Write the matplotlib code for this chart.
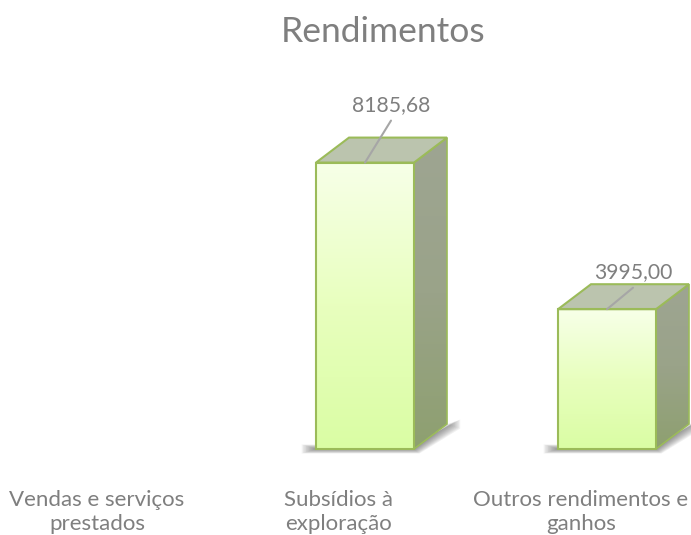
"""Rendimentos: 3D-look column chart drawn on a plain value axis."""
import matplotlib

matplotlib.use("Agg")  # headless
import matplotlib.pyplot as plt
import numpy as np
from matplotlib.colors import LinearSegmentedColormap
from matplotlib.patches import Polygon

categories = ["Vendas e serviços\nprestados", "Subsídios à\nexploração", "Outros rendimentos e\nganhos"]
values = [0, 8185.68, 3995.00]
value_labels = ["", "8185,68", "3995,00"]

plt.rcParams["font.family"] = ["Lato", "DejaVu Sans"]

W, H = 691, 535
GREY = "#7f7f7f"
EDGE = "#9bbb59"
LEADER = "#a6a6a6"
UNITS_PER_PX = 28.58  # value units per pixel
X_PX_PER_CAT = 242
X0_PX, Y0_PX = 123, 449  # where category 0 / value 0 land on the canvas
BAR_W = 98 / X_PX_PER_CAT
DX, DY = 33 / X_PX_PER_CAT, 25 * UNITS_PER_PX  # depth of the box

front_cmap = LinearSegmentedColormap.from_list("front", ["#dafda4", "#e8ffbe", "#f7ffe8"])
side_cmap = LinearSegmentedColormap.from_list("side", ["#8ea070", "#9aa389", "#9ea592"])

fig = plt.figure(figsize=(W / 100, H / 100), dpi=100)
ax = fig.add_axes([0, 0, 1, 1])
ax.axis("off")


def draw_shadow(x, ax):
    # soft floor shadow, stacked translucent polygons
    left, right = x - BAR_W / 2, x + BAR_W / 2
    for i in range(10):
        g = (10 - i) * 0.55 / X_PX_PER_CAT
        gy = (10 - i) * 0.45 * UNITS_PER_PX
        ax.add_patch(Polygon(
            [(left - 2.6 * g, -gy), (right + g, -gy), (right + DX + 2.4 * g, DY - gy),
             (right + DX + 2.4 * g, DY + gy), (right, gy), (left - 2.6 * g, gy)],
            closed=True, fc="#404040", ec="none", alpha=0.07, zorder=1))


def draw_box(x, val, ax):
    left, right = x - BAR_W / 2, x + BAR_W / 2
    # front face gradient, bottom to top
    grad = np.linspace(0, 1, 128).reshape(-1, 1)
    ax.imshow(grad, cmap=front_cmap, origin="lower", aspect="auto",
              extent=(left, right, 0, val), zorder=3)
    ax.add_patch(Polygon([(left, 0), (right, 0), (right, val), (left, val)],
                         closed=True, fc="none", ec=EDGE, lw=1.5, zorder=5, joinstyle="miter"))
    # side face
    side_pts = [(right, 0), (right + DX, DY), (right + DX, val + DY), (right, val)]
    side = Polygon(side_pts, closed=True, fc="none", ec="none", zorder=3)
    ax.add_patch(side)
    im = ax.imshow(grad, cmap=side_cmap, origin="lower", aspect="auto",
                   extent=(right, right + DX, 0, val + DY), zorder=3)
    im.set_clip_path(side)
    ax.add_patch(Polygon(side_pts, closed=True, fc="none", ec=EDGE, lw=1.2, zorder=4))
    # top face
    ax.add_patch(Polygon([(left, val), (right, val), (right + DX, val + DY), (left + DX, val + DY)],
                         closed=True, fc="#bbc4ae", ec=EDGE, lw=1.5, zorder=4))


for i, (val, label) in enumerate(zip(values, value_labels)):
    if val > 0:
        draw_shadow(i, ax)
        draw_box(i, val, ax)
        ax.annotate("", xy=(i, val), xytext=(26, 42 if val > 5000 else 21.5), textcoords="offset pixels",
                    arrowprops=dict(arrowstyle="-", color=LEADER, lw=1.5, shrinkA=0, shrinkB=0), zorder=6)
        ax.annotate(label, xy=(i, val), xytext=(26, 57 if val > 5000 else 37), textcoords="offset pixels",
                    ha="center", va="center", fontsize=15.2, color=GREY, zorder=6)
    ax.annotate(categories[i], xy=(i, 0), xytext=(-26, -63), textcoords="offset pixels",
                ha="center", va="center", fontsize=16.0, color=GREY, linespacing=1.25)

# imshow resets limits
ax.set_xlim(-X0_PX / X_PX_PER_CAT, (W - X0_PX) / X_PX_PER_CAT)
ax.set_ylim(-(H - Y0_PX) * UNITS_PER_PX, Y0_PX * UNITS_PER_PX)

fig.text(383 / W, 1 - 32 / H, "Rendimentos", ha="center", va="center", fontsize=25.5, color=GREY)
fig.savefig("out.png", dpi=100)
plt.close(fig)
